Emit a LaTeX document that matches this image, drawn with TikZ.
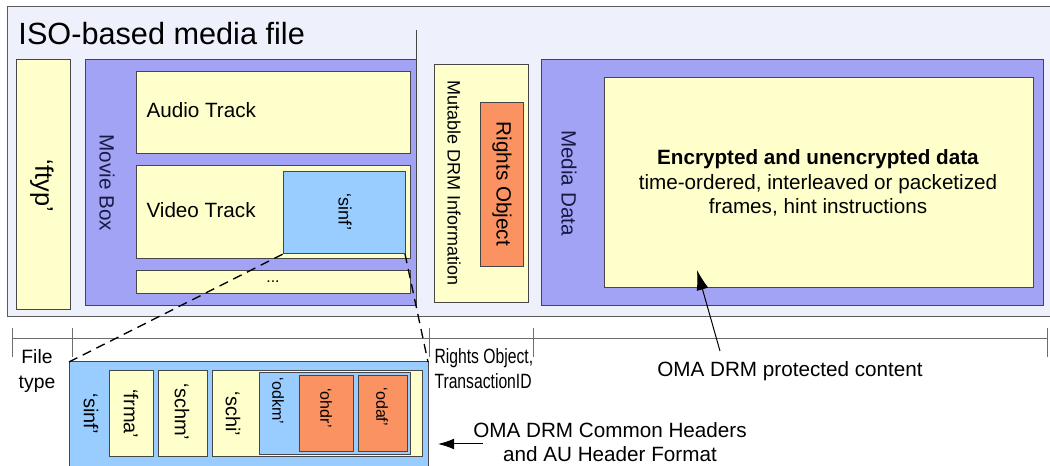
\documentclass[tikz,border=0pt]{standalone}
\usepackage{fontspec}
\setmainfont{Liberation Sans}
\newfontfamily\narrowsans[FakeStretch=0.76]{Liberation Sans}
\usepackage{tikz}
\usetikzlibrary{fit,arrows.meta}
\definecolor{frameFill}{RGB}{238,240,252}
\definecolor{frameGray}{RGB}{90,90,90}
\definecolor{edgeGray}{RGB}{70,70,70}
\definecolor{lineGray}{RGB}{110,110,110}
\definecolor{boxYellow}{RGB}{255,255,204}
\definecolor{boxViolet}{RGB}{163,163,245}
\definecolor{boxBlue}{RGB}{153,204,255}
\definecolor{boxOrange}{RGB}{250,146,98}
\definecolor{textNavy}{RGB}{25,25,70}
\tikzset{
box/.style={draw=edgeGray, inner sep=0pt, outer sep=0pt},
yellowbox/.style={box, fill=boxYellow},
violetbox/.style={box, fill=boxViolet},
bluebox/.style={box, fill=boxBlue},
orangebox/.style={box, fill=boxOrange},
lbl/.style={inner sep=0pt},
vlbl/.style={inner sep=0pt, rotate=-90},
bigtext/.style={font=\fontsize{23}{27}\selectfont},
midtext/.style={font=\fontsize{15.5}{18.5}\selectfont},
smalltext/.style={font=\fontsize{13.5}{16}\selectfont},
tinytext/.style={font=\fontsize{12}{14}\selectfont}}
\tikzset{every picture/.style={line width=0.75pt}}

\begin{document}
\begin{tikzpicture}[x=0.75pt,y=0.75pt,yscale=-1,xscale=1]
\useasboundingbox (0,0) rectangle (1050,466);

%Shape: Rectangle -- file frame
\fill[frameFill] (7,7) rectangle (1050,317);
\draw[frameGray] (1050,7) -- (7,7) -- (7,317) -- (1050,317);
%Text Node
\node[lbl, bigtext, anchor=base west] (title) at (18,45) {ISO-based media file};

%Shape: Rectangle -- ftyp
\node[yellowbox, fit={(16,60) (70,310)}] (ftyp) {};
\node[vlbl, font=\fontsize{19}{22}\selectfont] (ftyplbl) at (42,186) {‘ftyp’};

%Shape: Rectangle -- movie box
\node[violetbox, fit={(85,60) (416,306)}] (movie) {};
\node[vlbl, midtext, text=textNavy] (movielbl) at (107,183) {Movie Box};
\draw[edgeGray] (416,30) -- (movie.north east);
%Shape: Rectangle -- tracks
\node[yellowbox, fit={(136,72) (410,154)}] (audio) {};
\node[lbl, midtext, anchor=base west] (audiolbl) at (146,118) {Audio Track};
\node[yellowbox, fit={(136,166) (410,259)}] (video) {};
\node[lbl, midtext, anchor=base west] (videolbl) at (146,218) {Video Track};
\node[bluebox, fit={(283,172) (405,254)}] (sinfA) {};
\node[vlbl, smalltext] (sinfAlbl) at (345,212) {‘sinf’};
\node[yellowbox, fit={(136,271) (410,294)}] (more) {};
\node[lbl, font=\fontsize{12}{14}\selectfont] (morelbl) at (273,282) {...};

%Shape: Rectangle -- mutable DRM information
\node[yellowbox, fit={(434,65) (528,303)}] (mutable) {};
\node[vlbl, smalltext] (mutablelbl) at (454,183) {Mutable DRM Information};
\node[orangebox, fit={(480,103) (523,267)}] (rights) {};
\node[vlbl, midtext] (rightslbl) at (502,184) {Rights Object};

%Shape: Rectangle -- media data
\node[violetbox, fit={(541,60) (1043,306)}] (media) {};
\node[vlbl, midtext, text=textNavy] (medialbl) at (569,183) {Media Data};
\node[yellowbox, fit={(604,78) (1033,288)}] (payload) {};
\node[lbl, align=center, anchor=north, font=\fontsize{15.5}{18.4}\selectfont] (payloadlbl) at (818,149)
  {\textbf{Encrypted and unencrypted data}\\time-ordered, interleaved or packetized\\frames, hint instructions};

%Line: time scale
\draw[lineGray] (12,339) -- (1047,339);
\draw[lineGray] (12,328) -- (12,357);
\draw[lineGray] (72,328) -- (72,357);
\draw[lineGray] (429,328) -- (429,357);
\draw[lineGray] (533,328) -- (533,357);
\draw[lineGray] (1047,328) -- (1047,357);
\node[lbl, align=center, anchor=north, font=\fontsize{14.5}{18.75}\selectfont] (filetype) at (37,349) {File\\type};
\node[lbl, align=left, anchor=north west, font=\narrowsans\fontsize{15.5}{18.75}\selectfont] (rolbl) at (434,348) {Rights Object,\\TransactionID};
\node[lbl, midtext, anchor=base] (protlbl) at (790,377) {OMA DRM protected content};
\coordinate (protTail) at (720,351);
\coordinate (protTip) at (697,270);
\draw[black, -{Latex[length=15pt,width=9pt]}] (protTail) -- (protTip);

%Shape: Rectangle -- sinf detail
\node[bluebox, fit={(69,362) (428,470)}] (sinfB) {};
\node[vlbl, font=\fontsize{15}{18}\selectfont] (sinfBlbl) at (91,414) {‘sinf’};
\node[yellowbox, fit={(109,371) (153,457)}] (frma) {};
\node[vlbl, font=\fontsize{15}{18}\selectfont] (frmalbl) at (131,414) {‘frma’};
\node[yellowbox, fit={(158,371) (207,457)}] (schm) {};
\node[vlbl, font=\fontsize{15}{18}\selectfont] (schmlbl) at (182,412) {‘schm’};
\node[yellowbox, fit={(212,371) (422,457)}] (schi) {};
\node[vlbl, font=\fontsize{15}{18}\selectfont] (schilbl) at (233,414) {‘schi’};
\node[bluebox, fit={(259,373) (410,455)}] (odkm) {};
\node[vlbl, tinytext] (odkmlbl) at (278,401) {‘odkm’};
\node[orangebox, fit={(299,376) (353,452)}] (ohdr) {};
\node[vlbl, tinytext] (ohdrlbl) at (326,408) {‘ohdr’};
\node[orangebox, fit={(358,376) (407,452)}] (odaf) {};
\node[vlbl, tinytext] (odaflbl) at (382,407) {‘odaf’};

%Line: zoom lines
\draw[black, line width=1pt, dash pattern=on 7pt off 4.5pt] (sinfB.north west) -- (sinfA.south west);
\draw[black, line width=1pt, dash pattern=on 7pt off 4.5pt] (sinfA.south east) -- (sinfB.north east);

\node[lbl, align=center, anchor=north, font=\fontsize{15.5}{18}\selectfont] (headerlbl) at (610,422) {OMA DRM Common Headers\\and AU Header Format};
\coordinate (hdrTail) at (483,444);
\coordinate (hdrTip) at (438,444);
\draw[black, -{Latex[length=12pt,width=8pt]}] (hdrTail) -- (hdrTip);

\end{tikzpicture}
\end{document}
